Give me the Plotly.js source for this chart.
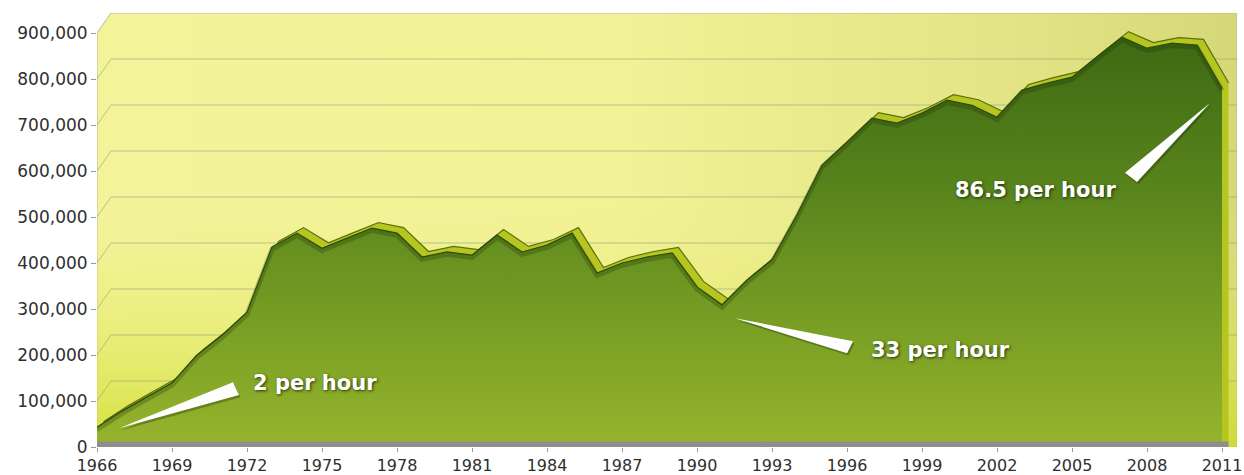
<!DOCTYPE html>
<html><head><meta charset="utf-8">
<script src="https://cdn.plot.ly/plotly-3.0.1.min.js"></script>
<style>html,body{margin:0;padding:0;background:#fff}</style>
</head><body><div id="chart" style="width:1244px;height:475px"></div>
<script>
// ---- data ----
const years = [1966,1967,1968,1969,1970,1971,1972,1973,1974,1975,1976,1977,1978,1979,1980,1981,1982,1983,1984,1985,1986,1987,1988,1989,1990,1991,1992,1993,1994,1995,1996,1997,1998,1999,2000,2001,2002,2003,2004,2005,2006,2007,2008,2009,2010,2011];
const values = [43000,78000,109000,139000,200000,243000,293000,435000,465000,432000,454000,476000,465000,413000,424000,417000,461000,424000,439000,465000,378000,400000,413000,422000,348000,309000,363000,407000,505000,613000,663000,715000,704000,726000,754000,743000,717000,776000,791000,804000,848000,891000,867000,878000,874000,780000];
const yTicks = [0,100000,200000,300000,400000,500000,600000,700000,800000,900000];
const yTickLabels = ['0','100,000','200,000','300,000','400,000','500,000','600,000','700,000','800,000','900,000'];
const xTicks = [1966,1969,1972,1975,1978,1981,1984,1987,1990,1993,1996,1999,2002,2005,2008,2011];
const xTickLabels = xTicks.map(String);
const annTexts = ['2 per hour','33 per hour','86.5 per hour'];

// ---- layout constants (positions / styles) ----
const annPos = [[1974.72,139000],[1999.72,211000],[2003.52,559000]];
const wedges = [
  [[1966.88,41000],[1971.44,141000],[1971.68,113000]],
  [[1991.52,280000],[1996.24,230000],[1996.0,204000]],
  [[2010.52,748000],[2007.12,596000],[2007.6,576000]]
];
const X0 = 1966, XMAX = 2011.6, YTOP = 900000, YMAX = 943500;
const dxB = 0.56, dyB = 43500;   // back wall depth
const dxR = 0.26, dyR = 12000;   // series depth (ridge)

const traces = [];
// back wall
const wallX = [X0, X0, X0+dxB, XMAX, XMAX, X0];
const wallY = [0, YTOP, YMAX, YMAX, 0, 0];
traces.push({x: wallX, y: wallY, mode:'lines', fill:'toself', hoverinfo:'skip',
  line:{color:'#b9b99a', width:1},
  fillgradient:{type:'horizontal', start:X0, stop:XMAX,
    colorscale:[[0,'#f3f39a'],[0.45,'#f2f296'],[0.8,'#e3e485'],[1,'#d6d877']]}});
traces.push({x: wallX, y: wallY, mode:'lines', fill:'toself', hoverinfo:'skip',
  line:{width:0, color:'rgba(0,0,0,0)'},
  fillgradient:{type:'vertical', start:0, stop:YMAX,
    colorscale:[[0,'rgba(206,220,40,0.8)'],[0.35,'rgba(225,232,90,0.3)'],[0.6,'rgba(240,240,150,0)'],[1,'rgba(240,240,150,0)']]}});
// back-wall gridlines
const gx = [], gy = [];
yTicks.slice(1, -1).forEach(v => { gx.push(X0, X0+dxB, XMAX, null); gy.push(v, v+dyB, v+dyB, null); });
traces.push({x: gx, y: gy, mode:'lines', hoverinfo:'skip', line:{color:'rgba(150,160,128,0.6)', width:1}});
// ridge (series depth)
traces.push({x: years.map(v => v + dxR), y: values.map(v => v + dyR), mode:'lines', fill:'tozeroy',
  fillcolor:'#b7c520', line:{color:'#58700f', width:1.2}, hoverinfo:'skip'});
// front face
traces.push({x: years, y: values, mode:'lines', fill:'tozeroy', hoverinfo:'skip',
  line:{color:'#34540e', width:1.2},
  fillgradient:{type:'vertical', start:0, stop:YTOP,
    colorscale:[[0,'#97b42d'],[0.3,'#789e24'],[0.6,'#5a861c'],[1,'#3e6813']]}});
// inner shading along the top edge of the front face
traces.push({x: years, y: values.map(v => v - 5000), mode:'lines', hoverinfo:'skip',
  line:{color:'rgba(30,50,8,0.28)', width:5}});

const shapes = [];
// floor strip
shapes.push({type:'rect', xref:'x', yref:'y', x0:X0, x1:2011+dxR, y0:0, y1:12000,
  fillcolor:'#8e8e8e', line:{width:0}, layer:'above'});
wedges.forEach(w => {
  const sp = 'M ' + (w[0][0]+0.06) + ',' + (w[0][1]-5000) + ' L ' + (w[1][0]+0.06) + ',' + (w[1][1]-5000) + ' L ' + (w[2][0]+0.06) + ',' + (w[2][1]-5000) + ' Z';
  shapes.push({type:'path', xref:'x', yref:'y', path:sp, fillcolor:'rgba(30,45,5,0.35)', line:{width:0}, layer:'above'});
  const p = 'M ' + w[0][0] + ',' + w[0][1] + ' L ' + w[1][0] + ',' + w[1][1] + ' L ' + w[2][0] + ',' + w[2][1] + ' Z';
  shapes.push({type:'path', xref:'x', yref:'y', path:p, fillcolor:'#ffffff', line:{width:0}, layer:'above'});
});

const annotations = annTexts.map((t, i) => ({x: annPos[i][0], y: annPos[i][1], xref:'x', yref:'y', text:t,
  showarrow:false, xanchor:'center', yanchor:'middle',
  font:{family:'DejaVu Sans', size:21, color:'#ffffff', weight:'bold', shadow:'1px 1px 3px rgba(25,40,5,0.9)'}}));

const layout = {
  width:1244, height:475, margin:{l:97, r:7, t:13, b:28},
  paper_bgcolor:'#ffffff', plot_bgcolor:'rgba(0,0,0,0)', showlegend:false,
  xaxis:{range:[X0, XMAX], tickvals:xTicks, ticktext:xTickLabels, ticks:'outside', ticklen:4, tickcolor:'#9a9a9a',
    showgrid:false, zeroline:false, showline:false, fixedrange:true,
    tickfont:{family:'DejaVu Sans', size:16, color:'#2f2f2f'}},
  yaxis:{range:[0, YMAX], tickvals:yTicks, ticktext:yTickLabels, ticks:'outside', ticklen:5, tickcolor:'#9a9a9a',
    showgrid:false, zeroline:false, showline:false, fixedrange:true,
    tickfont:{family:'DejaVu Sans', size:17, color:'#2f2f2f'}},
  shapes: shapes, annotations: annotations
};
Plotly.newPlot('chart', traces, layout, {displayModeBar:false, staticPlot:true});
</script></body></html>
